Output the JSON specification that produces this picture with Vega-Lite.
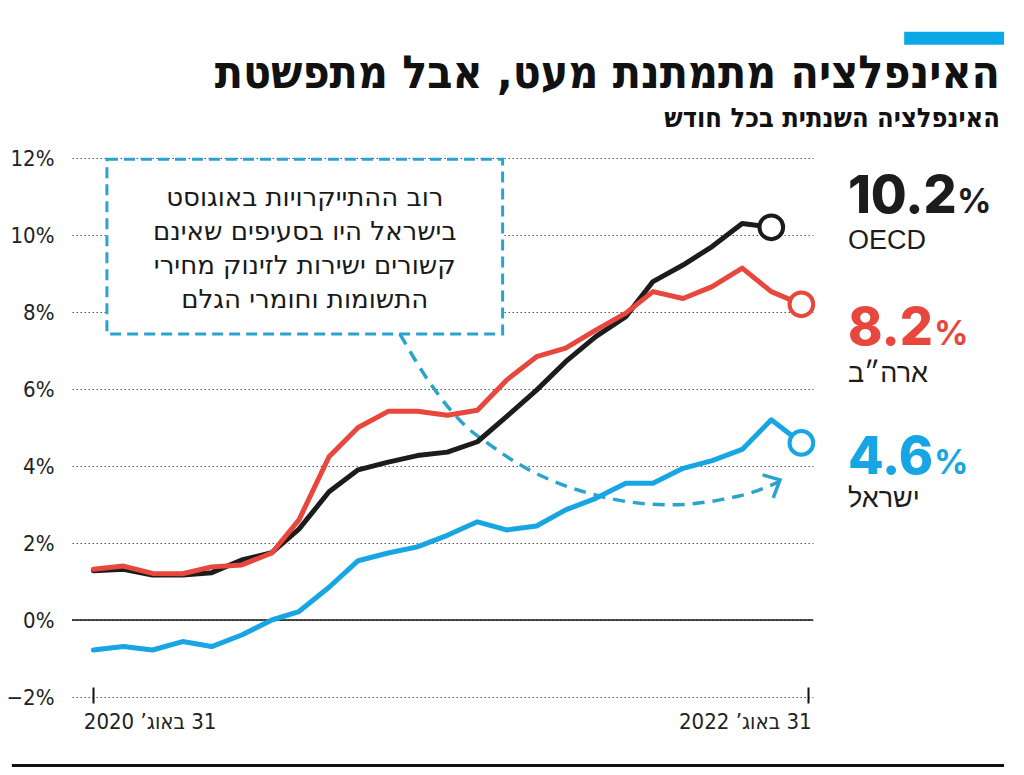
{
  "$schema": "https://vega.github.io/schema/vega-lite/v6.json",
  "width": 741,
  "height": 539,
  "autosize": {"type": "none"},
  "padding": {"left": 72, "top": 158, "right": 211, "bottom": 78},
  "background": "white",
  "config": {"view": {"stroke": null}},
  "title": {
    "text": "האינפלציה מתמתנת מעט, אבל מתפשטת",
    "subtitle": "האינפלציה השנתית בכל חודש",
    "anchor": "end",
    "frame": "group",
    "align": "right",
    "dx": 187,
    "dy": 123,
    "offset": 22,
    "font": "DejaVu Sans Condensed, Liberation Sans, sans-serif",
    "fontSize": 46,
    "fontWeight": "bold",
    "color": "#111111",
    "subtitleFont": "DejaVu Sans Condensed, Liberation Sans, sans-serif",
    "subtitleFontSize": 27,
    "subtitleFontWeight": "bold",
    "subtitleColor": "#111111",
    "subtitlePadding": 8
  },
  "datasets": {
    "one": [{}],
    "infl": [
      {"date": "2020-08-01", "series": "OECD", "value": 1.28},
      {"date": "2020-09-01", "series": "OECD", "value": 1.32},
      {"date": "2020-10-01", "series": "OECD", "value": 1.17},
      {"date": "2020-11-01", "series": "OECD", "value": 1.17},
      {"date": "2020-12-01", "series": "OECD", "value": 1.23},
      {"date": "2021-01-01", "series": "OECD", "value": 1.56},
      {"date": "2021-02-01", "series": "OECD", "value": 1.75},
      {"date": "2021-03-01", "series": "OECD", "value": 2.36},
      {"date": "2021-04-01", "series": "OECD", "value": 3.33},
      {"date": "2021-05-01", "series": "OECD", "value": 3.9},
      {"date": "2021-06-01", "series": "OECD", "value": 4.1},
      {"date": "2021-07-01", "series": "OECD", "value": 4.27},
      {"date": "2021-08-01", "series": "OECD", "value": 4.36},
      {"date": "2021-09-01", "series": "OECD", "value": 4.63},
      {"date": "2021-10-01", "series": "OECD", "value": 5.28},
      {"date": "2021-11-01", "series": "OECD", "value": 5.97},
      {"date": "2021-12-01", "series": "OECD", "value": 6.71},
      {"date": "2022-01-01", "series": "OECD", "value": 7.36},
      {"date": "2022-02-01", "series": "OECD", "value": 7.88},
      {"date": "2022-03-01", "series": "OECD", "value": 8.79},
      {"date": "2022-04-01", "series": "OECD", "value": 9.22},
      {"date": "2022-05-01", "series": "OECD", "value": 9.7},
      {"date": "2022-06-01", "series": "OECD", "value": 10.3},
      {"date": "2022-07-01", "series": "OECD", "value": 10.2},
      {"date": "2020-08-01", "series": "US", "value": 1.32},
      {"date": "2020-09-01", "series": "US", "value": 1.4},
      {"date": "2020-10-01", "series": "US", "value": 1.21},
      {"date": "2020-11-01", "series": "US", "value": 1.2},
      {"date": "2020-12-01", "series": "US", "value": 1.38},
      {"date": "2021-01-01", "series": "US", "value": 1.43},
      {"date": "2021-02-01", "series": "US", "value": 1.74},
      {"date": "2021-03-01", "series": "US", "value": 2.6},
      {"date": "2021-04-01", "series": "US", "value": 4.24},
      {"date": "2021-05-01", "series": "US", "value": 5.0},
      {"date": "2021-06-01", "series": "US", "value": 5.42},
      {"date": "2021-07-01", "series": "US", "value": 5.42},
      {"date": "2021-08-01", "series": "US", "value": 5.32},
      {"date": "2021-09-01", "series": "US", "value": 5.45},
      {"date": "2021-10-01", "series": "US", "value": 6.23},
      {"date": "2021-11-01", "series": "US", "value": 6.84},
      {"date": "2021-12-01", "series": "US", "value": 7.06},
      {"date": "2022-01-01", "series": "US", "value": 7.53},
      {"date": "2022-02-01", "series": "US", "value": 7.97},
      {"date": "2022-03-01", "series": "US", "value": 8.53},
      {"date": "2022-04-01", "series": "US", "value": 8.35},
      {"date": "2022-05-01", "series": "US", "value": 8.66},
      {"date": "2022-06-01", "series": "US", "value": 9.14},
      {"date": "2022-07-01", "series": "US", "value": 8.53},
      {"date": "2022-08-01", "series": "US", "value": 8.2},
      {"date": "2020-08-01", "series": "Israel", "value": -0.78},
      {"date": "2020-09-01", "series": "Israel", "value": -0.69},
      {"date": "2020-10-01", "series": "Israel", "value": -0.78},
      {"date": "2020-11-01", "series": "Israel", "value": -0.56},
      {"date": "2020-12-01", "series": "Israel", "value": -0.69},
      {"date": "2021-01-01", "series": "Israel", "value": -0.39},
      {"date": "2021-02-01", "series": "Israel", "value": 0.0},
      {"date": "2021-03-01", "series": "Israel", "value": 0.22},
      {"date": "2021-04-01", "series": "Israel", "value": 0.85},
      {"date": "2021-05-01", "series": "Israel", "value": 1.54},
      {"date": "2021-06-01", "series": "Israel", "value": 1.74},
      {"date": "2021-07-01", "series": "Israel", "value": 1.9},
      {"date": "2021-08-01", "series": "Israel", "value": 2.2},
      {"date": "2021-09-01", "series": "Israel", "value": 2.55},
      {"date": "2021-10-01", "series": "Israel", "value": 2.34},
      {"date": "2021-11-01", "series": "Israel", "value": 2.44},
      {"date": "2021-12-01", "series": "Israel", "value": 2.86},
      {"date": "2022-01-01", "series": "Israel", "value": 3.16},
      {"date": "2022-02-01", "series": "Israel", "value": 3.55},
      {"date": "2022-03-01", "series": "Israel", "value": 3.55},
      {"date": "2022-04-01", "series": "Israel", "value": 3.94},
      {"date": "2022-05-01", "series": "Israel", "value": 4.14},
      {"date": "2022-06-01", "series": "Israel", "value": 4.43},
      {"date": "2022-07-01", "series": "Israel", "value": 5.2},
      {"date": "2022-08-01", "series": "Israel", "value": 4.6}
    ],
    "arrow": [
      {"date": "2021-06-13", "value": 7.43, "part": "curve", "ord": 1},
      {"date": "2021-07-17", "value": 6.05, "part": "curve", "ord": 2},
      {"date": "2021-08-21", "value": 5.01, "part": "curve", "ord": 3},
      {"date": "2021-09-14", "value": 4.55, "part": "curve", "ord": 4},
      {"date": "2021-10-15", "value": 4.03, "part": "curve", "ord": 5},
      {"date": "2021-11-15", "value": 3.64, "part": "curve", "ord": 6},
      {"date": "2021-12-21", "value": 3.32, "part": "curve", "ord": 7},
      {"date": "2022-01-23", "value": 3.12, "part": "curve", "ord": 8},
      {"date": "2022-03-19", "value": 2.99, "part": "curve", "ord": 9},
      {"date": "2022-05-09", "value": 3.12, "part": "curve", "ord": 10},
      {"date": "2022-06-12", "value": 3.32, "part": "curve", "ord": 11},
      {"date": "2022-07-08", "value": 3.58, "part": "curve", "ord": 12},
      {"date": "2022-06-22", "value": 3.77, "part": "head", "ord": 1},
      {"date": "2022-07-10", "value": 3.64, "part": "head", "ord": 2},
      {"date": "2022-07-03", "value": 3.17, "part": "head", "ord": 3}
    ]
  },
  "layer": [
    {
      "data": {"name": "infl"},
      "mark": {"type": "line", "opacity": 0},
      "encoding": {
        "x": {
          "field": "date",
          "type": "temporal",
          "scale": {"type": "utc", "domain": [{"year": 2020, "month": 7, "date": 10, "utc": true}, {"year": 2022, "month": 8, "date": 13, "utc": true}]},
          "axis": {
            "values": [{"year": 2020, "month": 8, "date": 1, "utc": true}, {"year": 2022, "month": 8, "date": 8, "utc": true}],
            "title": null,
            "domain": false,
            "grid": false,
            "ticks": true,
            "tickSize": 16,
            "tickColor": "#111111",
            "tickWidth": 2,
            "offset": -10,
            "labelPadding": 8,
            "labelFont": "DejaVu Sans Condensed, Liberation Sans, sans-serif",
            "labelFontSize": 22,
            "labelColor": "#222222",
            "labelExpr": "utcyear(datum.value) == 2020 ? '\u200f31 באוג’ 2020' : '\u200f31 באוג’ 2022'",
            "labelAlign": {"condition": {"test": "utcyear(datum.value) == 2020", "value": "left"}, "value": "right"},
            "labelOffset": {"condition": {"test": "utcyear(datum.value) == 2020", "value": -10}, "value": 3}
          }
        },
        "y": {
          "field": "value",
          "type": "quantitative",
          "scale": {"domain": [-2, 12], "nice": false, "zero": false},
          "axis": {
            "values": [-2, 0, 2, 4, 6, 8, 10, 12],
            "title": null,
            "domain": false,
            "ticks": false,
            "grid": true,
            "gridDash": [1.5, 2.5],
            "gridColor": "#555555",
            "gridWidth": 1,
            "labelFont": "DejaVu Sans Condensed, Liberation Sans, sans-serif",
            "labelFontSize": 22,
            "labelColor": "#222222",
            "labelPadding": 18,
            "labelExpr": "(datum.value < 0 ? '−' + abs(datum.value) : datum.value) + '%'"
          }
        }
      }
    },
    {
      "data": {"name": "one"},
      "mark": {"type": "rule", "color": "#111111", "strokeWidth": 1.5},
      "encoding": {"y": {"datum": 0}}
    },
    {
      "data": {"name": "one"},
      "mark": {"type": "rect", "fill": "white", "stroke": "#2aa3cf", "strokeWidth": 3, "strokeDash": [11, 6]},
      "encoding": {
        "x": {"datum": {"year": 2020, "month": 8, "date": 15, "utc": true}, "type": "temporal"},
        "x2": {"datum": {"year": 2021, "month": 9, "date": 27, "utc": true}},
        "y": {"datum": 11.97},
        "y2": {"datum": 7.43}
      }
    },
    {
      "data": {"name": "one"},
      "mark": {"type": "text", "font": "DejaVu Sans", "fontSize": 26, "color": "#1a1a1a", "align": "center", "baseline": "middle", "lineHeight": 34},
      "encoding": {
        "x": {"datum": {"year": 2021, "month": 3, "date": 7, "utc": true}, "type": "temporal"},
        "y": {"datum": 10.97},
        "text": {"value": ["רוב ההתייקרויות באוגוסט", "בישראל היו בסעיפים שאינם", "קשורים ישירות לזינוק מחירי", "התשומות וחומרי הגלם"]}
      }
    },
    {
      "data": {"name": "arrow"},
      "transform": [{"filter": "datum.part == 'curve'"}],
      "mark": {"type": "line", "color": "#2aa3cf", "strokeWidth": 3.5, "strokeDash": [12, 8], "interpolate": "monotone"},
      "encoding": {
        "x": {"field": "date", "type": "temporal"},
        "y": {"field": "value", "type": "quantitative"},
        "order": {"field": "ord"}
      }
    },
    {
      "data": {"name": "arrow"},
      "transform": [{"filter": "datum.part == 'head'"}],
      "mark": {"type": "line", "color": "#2aa3cf", "strokeWidth": 3.5},
      "encoding": {
        "x": {"field": "date", "type": "temporal"},
        "y": {"field": "value", "type": "quantitative"},
        "order": {"field": "ord"}
      }
    },
    {
      "data": {"name": "infl"},
      "mark": {"type": "line", "strokeWidth": 5, "strokeCap": "round", "strokeJoin": "round"},
      "encoding": {
        "x": {"field": "date", "type": "temporal"},
        "y": {"field": "value", "type": "quantitative"},
        "color": {"field": "series", "type": "nominal", "scale": {"domain": ["Israel", "OECD", "US"], "range": ["#17a6e3", "#1c1c1c", "#e8473d"]}, "legend": null},
        "order": {"field": "date", "type": "temporal"}
      }
    },
    {
      "data": {"name": "infl"},
      "transform": [
        {"joinaggregate": [{"op": "max", "field": "date", "as": "lastdate"}], "groupby": ["series"]},
        {"filter": "datum.date == datum.lastdate"}
      ],
      "mark": {"type": "point", "filled": false, "fill": "white", "size": 560, "strokeWidth": 4, "opacity": 1},
      "encoding": {
        "x": {"field": "date", "type": "temporal"},
        "y": {"field": "value", "type": "quantitative"},
        "color": {"field": "series", "type": "nominal", "legend": null}
      }
    },
    {
      "data": {"name": "one"},
      "mark": {"type": "text", "font": "Inter", "fontWeight": 800, "fontSize": 52, "align": "left", "baseline": "alphabetic", "color": "#1c1c1c"},
      "encoding": {"x": {"datum": {"year": 2022, "month": 9, "date": 18, "utc": true}, "type": "temporal"}, "y": {"datum": 10.57}, "text": {"value": "10.2"}}
    },
    {
      "data": {"name": "one"},
      "mark": {"type": "text", "font": "Inter", "fontWeight": 700, "fontSize": 34, "align": "left", "baseline": "alphabetic", "color": "#1c1c1c", "dx": 109},
      "encoding": {"x": {"datum": {"year": 2022, "month": 9, "date": 18, "utc": true}, "type": "temporal"}, "y": {"datum": 10.57}, "text": {"value": "%"}}
    },
    {
      "data": {"name": "one"},
      "mark": {"type": "text", "font": "Liberation Sans", "fontSize": 27, "align": "left", "baseline": "alphabetic", "color": "#1c1c1c"},
      "encoding": {"x": {"datum": {"year": 2022, "month": 9, "date": 18, "utc": true}, "type": "temporal"}, "y": {"datum": 9.64}, "text": {"value": "OECD"}}
    },
    {
      "data": {"name": "one"},
      "mark": {"type": "text", "font": "Inter", "fontWeight": 800, "fontSize": 52, "align": "left", "baseline": "alphabetic", "color": "#e8473d"},
      "encoding": {"x": {"datum": {"year": 2022, "month": 9, "date": 18, "utc": true}, "type": "temporal"}, "y": {"datum": 7.14}, "text": {"value": "8.2"}}
    },
    {
      "data": {"name": "one"},
      "mark": {"type": "text", "font": "Inter", "fontWeight": 700, "fontSize": 34, "align": "left", "baseline": "alphabetic", "color": "#e8473d", "dx": 86},
      "encoding": {"x": {"datum": {"year": 2022, "month": 9, "date": 18, "utc": true}, "type": "temporal"}, "y": {"datum": 7.14}, "text": {"value": "%"}}
    },
    {
      "data": {"name": "one"},
      "mark": {"type": "text", "font": "Liberation Sans", "fontSize": 27, "align": "left", "baseline": "alphabetic", "color": "#1c1c1c"},
      "encoding": {"x": {"datum": {"year": 2022, "month": 9, "date": 18, "utc": true}, "type": "temporal"}, "y": {"datum": 6.18}, "text": {"value": "ארה״ב"}}
    },
    {
      "data": {"name": "one"},
      "mark": {"type": "text", "font": "Inter", "fontWeight": 800, "fontSize": 52, "align": "left", "baseline": "alphabetic", "color": "#17a6e3"},
      "encoding": {"x": {"datum": {"year": 2022, "month": 9, "date": 18, "utc": true}, "type": "temporal"}, "y": {"datum": 3.8}, "text": {"value": "4.6"}}
    },
    {
      "data": {"name": "one"},
      "mark": {"type": "text", "font": "Inter", "fontWeight": 700, "fontSize": 34, "align": "left", "baseline": "alphabetic", "color": "#17a6e3", "dx": 86},
      "encoding": {"x": {"datum": {"year": 2022, "month": 9, "date": 18, "utc": true}, "type": "temporal"}, "y": {"datum": 3.8}, "text": {"value": "%"}}
    },
    {
      "data": {"name": "one"},
      "mark": {"type": "text", "font": "Liberation Sans", "fontSize": 27, "align": "left", "baseline": "alphabetic", "color": "#1c1c1c"},
      "encoding": {"x": {"datum": {"year": 2022, "month": 9, "date": 18, "utc": true}, "type": "temporal"}, "y": {"datum": 2.93}, "text": {"value": "ישראל"}}
    },
    {
      "data": {"name": "one"},
      "mark": {"type": "rect", "color": "#0aa8e6"},
      "encoding": {
        "x": {"datum": {"year": 2022, "month": 11, "date": 15, "utc": true}, "type": "temporal"},
        "x2": {"datum": {"year": 2023, "month": 2, "date": 26, "utc": true}},
        "y": {"datum": 15.28},
        "y2": {"datum": 14.94}
      }
    },
    {
      "data": {"name": "one"},
      "mark": {"type": "rule", "color": "#111111", "strokeWidth": 3},
      "encoding": {
        "x": {"datum": {"year": 2020, "month": 5, "date": 9, "utc": true}, "type": "temporal"},
        "x2": {"datum": {"year": 2023, "month": 2, "date": 26, "utc": true}},
        "y": {"datum": -3.78}
      }
    }
  ]
}
